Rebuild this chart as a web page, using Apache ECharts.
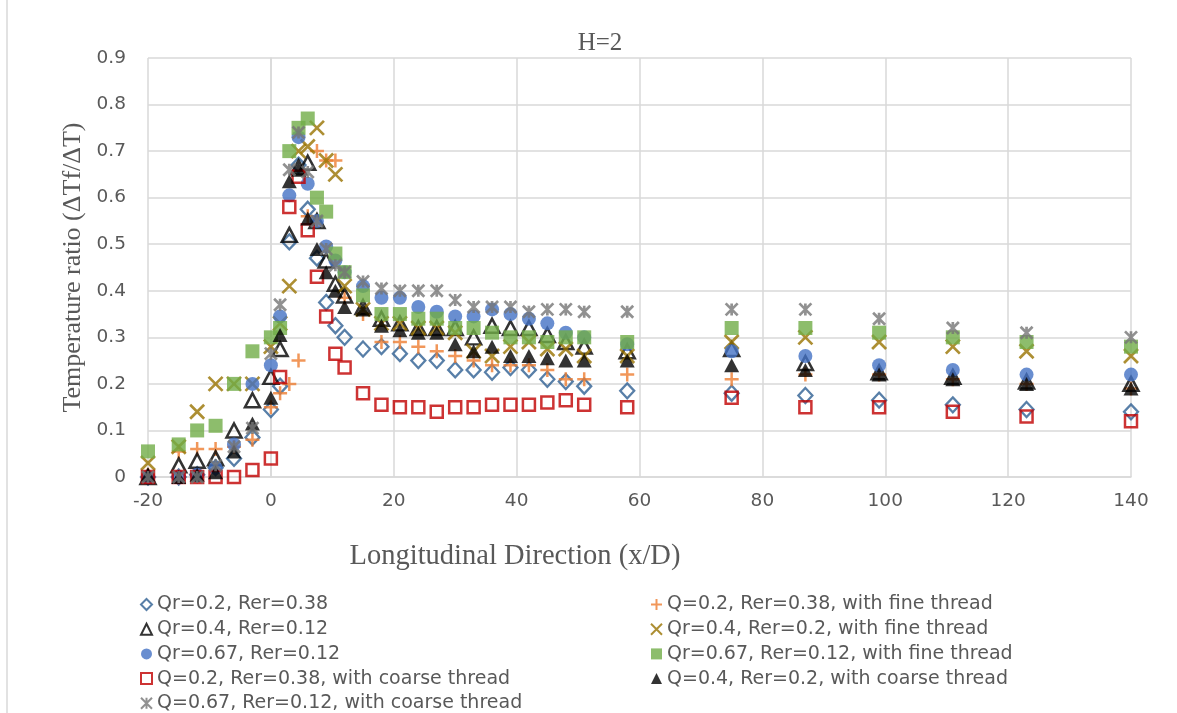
<!DOCTYPE html>
<html>
<head>
<meta charset="utf-8">
<script src="https://cdn.jsdelivr.net/npm/echarts@6/dist/echarts.min.js"></script>
<style>
  html, body { margin: 0; padding: 0; background: #ffffff; }
  #chart { width: 1177px; height: 713px; }
</style>
</head>
<body>
<div id="chart"></div>
<script>
// Measurement stations along the pipe (x/D)
const xStations = [-20, -15, -12, -9, -6, -3, 0, 1.5, 3, 4.5, 6, 7.5, 9, 10.5, 12, 15, 18, 21, 24, 27, 30, 33, 36, 39, 42, 45, 48, 51, 58, 75, 87, 99, 111, 123, 140];

// Temperature ratio for each case
const qr02Rer038 = [0, 0, 0.005, 0.02, 0.04, 0.085, 0.145, 0.195, 0.505, 0.67, 0.575, 0.47, 0.375, 0.325, 0.30, 0.275, 0.28, 0.265, 0.25, 0.25, 0.23, 0.23, 0.225, 0.235, 0.23, 0.21, 0.205, 0.195, 0.185, 0.18, 0.175, 0.165, 0.155, 0.145, 0.14];
const q02Rer038Fine = [0.005, 0.055, 0.06, 0.06, 0.065, 0.08, 0.15, 0.18, 0.20, 0.25, 0.56, 0.70, 0.68, 0.68, 0.385, 0.35, 0.29, 0.29, 0.28, 0.27, 0.26, 0.25, 0.24, 0.24, 0.24, 0.23, 0.21, 0.21, 0.22, 0.21, 0.22, 0.22, 0.21, 0.20, 0.19];
const qr04Rer012 = [0, 0.025, 0.035, 0.04, 0.10, 0.165, 0.215, 0.275, 0.52, 0.665, 0.675, 0.55, 0.465, 0.415, 0.39, 0.365, 0.34, 0.33, 0.32, 0.32, 0.32, 0.30, 0.325, 0.32, 0.32, 0.305, 0.29, 0.28, 0.27, 0.275, 0.245, 0.225, 0.215, 0.205, 0.20];
const qr04Rer02Fine = [0.03, 0.065, 0.14, 0.20, 0.20, 0.20, 0.28, 0.33, 0.41, 0.70, 0.71, 0.75, 0.68, 0.65, 0.41, 0.36, 0.33, 0.33, 0.32, 0.32, 0.31, 0.27, 0.26, 0.28, 0.29, 0.275, 0.275, 0.26, 0.26, 0.29, 0.30, 0.29, 0.28, 0.27, 0.26];
const qr067Rer012 = [0, 0, 0.005, 0.02, 0.07, 0.20, 0.24, 0.345, 0.605, 0.73, 0.63, 0.55, 0.495, 0.465, 0.44, 0.41, 0.385, 0.385, 0.365, 0.355, 0.345, 0.345, 0.36, 0.35, 0.34, 0.33, 0.31, 0.30, 0.285, 0.27, 0.26, 0.24, 0.23, 0.22, 0.22];
const qr067Rer012Fine = [0.055, 0.07, 0.10, 0.11, 0.20, 0.27, 0.30, 0.32, 0.70, 0.75, 0.77, 0.60, 0.57, 0.48, 0.44, 0.39, 0.35, 0.35, 0.34, 0.34, 0.32, 0.32, 0.31, 0.30, 0.30, 0.29, 0.30, 0.30, 0.29, 0.32, 0.32, 0.31, 0.30, 0.29, 0.28];
const q02Rer038Coarse = [0, 0, 0, 0, 0, 0.015, 0.04, 0.215, 0.58, 0.645, 0.53, 0.43, 0.345, 0.265, 0.235, 0.18, 0.155, 0.15, 0.15, 0.14, 0.15, 0.15, 0.155, 0.155, 0.155, 0.16, 0.165, 0.155, 0.15, 0.17, 0.15, 0.15, 0.14, 0.13, 0.12];
const q04Rer02Coarse = [0.005, 0, 0.005, 0.01, 0.055, 0.115, 0.17, 0.305, 0.635, 0.66, 0.555, 0.49, 0.44, 0.40, 0.365, 0.36, 0.325, 0.315, 0.31, 0.31, 0.285, 0.27, 0.28, 0.26, 0.26, 0.255, 0.25, 0.25, 0.25, 0.24, 0.23, 0.22, 0.21, 0.20, 0.19];
const q067Rer012Coarse = [0, 0, 0, 0.025, 0.065, 0.105, 0.265, 0.37, 0.66, 0.74, 0.655, 0.55, 0.49, 0.455, 0.44, 0.42, 0.405, 0.40, 0.40, 0.40, 0.38, 0.365, 0.365, 0.365, 0.355, 0.36, 0.36, 0.355, 0.355, 0.36, 0.36, 0.34, 0.32, 0.31, 0.30];

// Series names as shown in the legend
const seriesNames = [
  'Qr=0.2, Rer=0.38',
  'Q=0.2, Rer=0.38, with fine thread',
  'Qr=0.4, Rer=0.12',
  'Qr=0.4, Rer=0.2, with fine thread',
  'Qr=0.67, Rer=0.12',
  'Qr=0.67, Rer=0.12, with fine thread',
  'Q=0.2, Rer=0.38, with coarse thread',
  'Q=0.4, Rer=0.2, with coarse thread',
  'Q=0.67, Rer=0.12, with coarse thread'
];

// Axis ticks
const xTicks = { min: -20, max: 140, step: 20 };
const yTicks = { min: 0, max: 0.9, step: 0.1 };

const PLUS = 'path://M0,6 L12,6 M6,0 L6,12';
const CROSS = 'path://M0,0 L12,12 M12,0 L0,12';
const STAR = 'path://M0,0 L12,12 M12,0 L0,12 M6,0 L6,12';

const pairs = vals => xStations.map((x, i) => [x, vals[i]]);

function hollow(name, vals, symbol, size, stroke, width) {
  return {
    name, type: 'scatter', data: pairs(vals), symbol, symbolSize: size,
    itemStyle: { color: 'rgba(255,255,255,0)', borderColor: stroke, borderWidth: width },
    emphasis: { disabled: true }
  };
}
function filled(name, vals, symbol, size, fill) {
  return {
    name, type: 'scatter', data: pairs(vals), symbol, symbolSize: size,
    itemStyle: { color: fill },
    emphasis: { disabled: true }
  };
}

const series = [
  hollow(seriesNames[0], qr02Rer038, 'diamond', [14, 15], '#2E5F92', 2.3),
  hollow(seriesNames[1], q02Rer038Fine, PLUS, 14, '#ED7D31', 2.5),
  hollow(seriesNames[2], qr04Rer012, 'triangle', [15, 14], '#000000', 2.5),
  hollow(seriesNames[3], qr04Rer02Fine, CROSS, 14, '#997300', 2.7),
  filled(seriesNames[4], qr067Rer012, 'circle', 14, '#4472C4'),
  filled(seriesNames[5], qr067Rer012Fine, 'rect', 14, '#70AD47'),
  hollow(seriesNames[6], q02Rer038Coarse, 'rect', 12, '#C00000', 2.5),
  filled(seriesNames[7], q04Rer02Coarse, 'triangle', [15, 14], '#000000'),
  hollow(seriesNames[8], q067Rer012Coarse, STAR, 12, '#767676', 2.7)
];

const legendText = { fontFamily: 'DejaVu Sans', fontSize: 19, color: '#595959' };
const legendBase = {
  orient: 'vertical', itemWidth: 11, itemHeight: 11, itemGap: 5.7,
  height: 130, textStyle: legendText, selectedMode: false, padding: 0
};

const chart = echarts.init(document.getElementById('chart'), null, { renderer: 'canvas' });
chart.setOption({
  animation: false,
  backgroundColor: '#ffffff',
  title: {
    text: 'H=2', left: 595, top: 26, textAlign: 'center',
    textStyle: { fontFamily: 'Liberation Serif', fontSize: 25, fontWeight: 'normal', color: '#595959' }
  },
  grid: { left: 148, right: 46, top: 58, bottom: 236, containLabel: false },
  xAxis: {
    type: 'value', min: xTicks.min, max: xTicks.max, interval: xTicks.step,
    axisLine: { show: true, onZero: false, lineStyle: { color: '#d9d9d9', width: 1.5 } },
    axisTick: { show: false },
    axisLabel: { fontFamily: 'DejaVu Sans', fontSize: 18.5, color: '#595959', margin: 15 },
    splitLine: { show: true, lineStyle: { color: '#d9d9d9', width: 1.5 } }
  },
  yAxis: {
    type: 'value', min: yTicks.min, max: yTicks.max, interval: yTicks.step,
    name: 'Temperature ratio (ΔTf/ΔT)', nameLocation: 'middle', nameGap: 62,
    nameTextStyle: { fontFamily: 'Liberation Serif', fontSize: 26, color: '#595959' },
    axisLine: { show: true, lineStyle: { color: '#d9d9d9', width: 1.5 } },
    axisTick: { show: false },
    axisLabel: {
      fontFamily: 'DejaVu Sans', fontSize: 18.5, color: '#595959', margin: 22,
      formatter: v => (v === 0 ? '0' : v.toFixed(1))
    },
    splitLine: { show: true, lineStyle: { color: '#d9d9d9', width: 1.5 } }
  },
  legend: [
    Object.assign({}, legendBase, {
      left: 140, top: 595,
      data: [seriesNames[0], seriesNames[2], seriesNames[4], seriesNames[6], seriesNames[8]]
    }),
    Object.assign({}, legendBase, {
      left: 650, top: 595,
      data: [seriesNames[1], seriesNames[3], seriesNames[5], seriesNames[7]]
    })
  ],
  graphic: [
    {
      type: 'line', shape: { x1: 7, y1: 0, x2: 7, y2: 713 },
      style: { stroke: '#d9d9d9', lineWidth: 1.5 }, silent: true
    },
    {
      type: 'text', x: 515, y: 557, silent: true,
      style: {
        text: 'Longitudinal Direction (x/D)',
        align: 'center', verticalAlign: 'middle',
        fontFamily: 'Liberation Serif', fontSize: 28.5, fill: '#595959'
      }
    }
  ],
  series
});
</script>
</body>
</html>
